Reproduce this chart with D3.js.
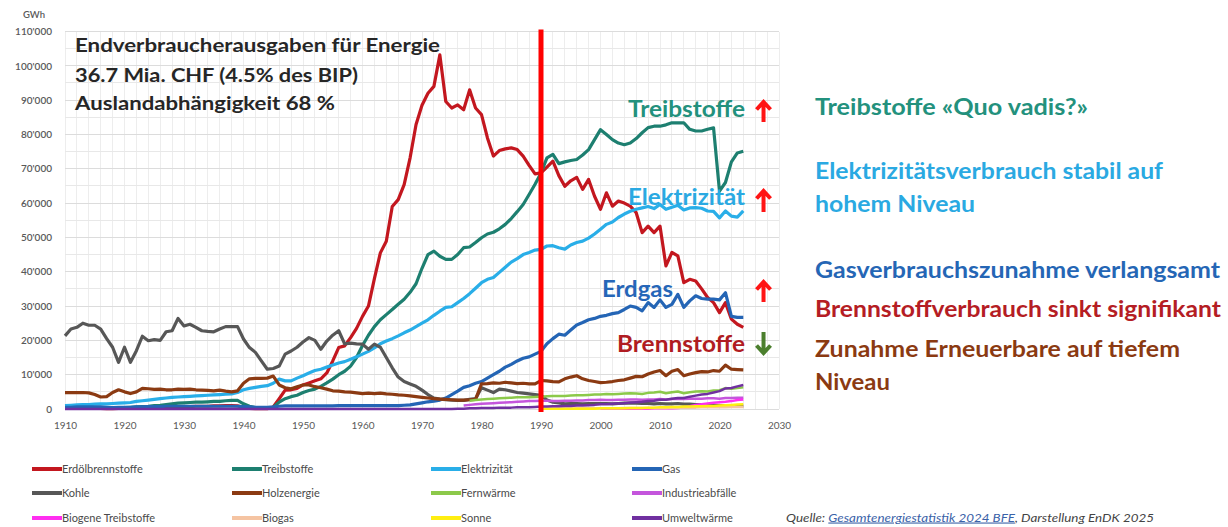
<!DOCTYPE html>
<html>
<head>
<meta charset="utf-8">
<script src="https://cdn.jsdelivr.net/npm/d3@7"></script>
<style>
  html, body { margin: 0; padding: 0; background: #fff; }
  svg { display: block; font-family: Lato, "Open Sans", sans-serif; }
</style>
</head>
<body>
<script>
// Endenergieverbrauch Schweiz nach Energieträgern, in 1000 GWh
var erdoel = [
  0.2,0.2,0.2,0.2,0.2,0.2,0.2,0.1,0.1,0.2,
  0.3,0.3,0.3,0.4,0.4,0.4,0.5,0.5,0.6,0.6,
  0.7,0.7,0.8,0.8,0.8,0.9,0.9,1.0,1.0,0.9,
  0.5,0.2,0.1,0.1,0.1,0.6,3.0,5.5,5.6,6.0,
  7.0,7.6,8.2,8.8,10.5,14.0,17.9,18.4,20.8,23.5,
  27.0,30.0,38.0,45.5,48.9,59.0,61.0,65.4,73.2,82.9,
  88.5,92.0,94.0,103.2,89.6,87.7,88.6,87.2,93.0,87.7,
  85.8,79.0,73.7,75.3,75.8,76.1,75.6,73.7,71.0,68.5,
  68.8,70.5,72.2,68.0,64.9,66.5,67.5,64.0,66.9,62.0,
  58.2,63.0,59.1,60.6,60.0,59.1,57.2,51.4,53.3,51.4,
  53.3,41.7,45.6,44.6,36.8,37.8,37.3,35.0,32.5,31.0,
  28.1,31.0,26.2,24.7,23.8
];
var treibstoffe = [
  0.2,0.2,0.3,0.3,0.3,0.3,0.3,0.2,0.2,0.3,
  0.4,0.5,0.6,0.7,0.8,1.0,1.1,1.3,1.5,1.7,
  1.8,1.9,2.0,2.0,2.1,2.2,2.2,2.4,2.5,2.5,
  1.5,0.8,0.4,0.3,0.3,0.5,2.0,3.0,3.6,4.0,
  4.8,5.4,5.8,6.6,7.6,8.7,10.0,11.0,12.5,15.0,
  18.5,21.5,24.0,26.0,27.5,29.0,30.5,32.0,34.0,36.5,
  41.0,45.0,46.0,44.5,43.6,43.6,45.0,47.0,47.2,48.5,
  49.9,51.0,51.5,52.5,53.8,55.5,57.5,59.6,62.5,65.5,
  68.8,73.2,74.2,71.5,72.0,72.4,72.7,74.0,75.6,78.5,
  81.4,80.0,78.5,77.5,77.0,77.5,78.8,80.5,82.0,82.4,
  82.4,82.8,83.4,83.4,83.4,81.5,81.0,81.0,81.5,81.9,
  63.5,66.0,72.0,74.6,75.1
];
var elektrizitaet = [
  1.0,1.1,1.2,1.3,1.3,1.4,1.5,1.5,1.6,1.7,
  1.8,1.9,2.2,2.4,2.6,2.8,3.0,3.2,3.4,3.5,
  3.6,3.7,3.8,3.9,4.0,4.1,4.2,4.3,4.4,4.8,
  5.6,6.0,6.3,6.6,6.8,7.5,8.7,8.2,8.2,9.0,
  9.7,10.5,11.2,11.6,12.2,12.8,13.4,13.8,14.5,15.2,
  16.0,16.8,17.8,19.0,19.8,20.5,21.3,22.2,23.0,24.0,
  25.0,26.0,27.3,28.5,29.6,29.8,31.0,32.2,33.6,35.2,
  36.8,37.8,38.3,39.8,41.3,42.8,43.8,45.0,45.6,46.3,
  46.5,47.5,47.6,47.0,46.6,47.8,48.5,48.9,49.8,51.0,
  52.4,53.8,54.5,55.8,56.8,57.6,58.2,58.6,59.0,58.4,
  59.6,58.2,58.8,59.4,58.0,58.6,58.7,58.5,57.7,57.6,
  55.7,57.7,56.2,55.9,57.7
];
var gas = [
  0.5,0.5,0.6,0.6,0.6,0.6,0.6,0.5,0.4,0.5,
  0.5,0.5,0.6,0.6,0.7,0.7,0.7,0.8,0.8,0.8,
  0.8,0.8,0.8,0.8,0.8,0.8,0.8,0.8,0.8,0.8,
  0.7,0.6,0.5,0.5,0.5,0.6,0.8,0.9,0.9,0.9,
  0.9,0.9,0.9,0.9,0.9,0.9,1.0,1.0,1.0,1.0,
  1.0,1.0,1.0,1.0,1.0,1.0,1.0,1.1,1.2,1.5,
  1.8,2.1,2.3,2.6,3.2,4.2,5.2,6.3,6.8,7.5,
  8.0,9.0,10.0,11.0,12.2,13.0,14.0,14.8,15.2,16.0,
  16.8,19.0,20.5,21.8,21.5,23.0,24.5,25.2,26.0,26.4,
  27.0,27.3,27.8,28.1,29.0,30.0,29.6,28.6,31.0,29.6,
  31.8,29.6,30.5,33.4,29.6,31.5,33.0,32.2,32.0,32.0,
  31.8,33.9,27.0,26.7,26.7
];
var kohle = [
  21.3,23.3,23.8,25.0,24.4,24.4,23.3,20.5,18.0,13.6,
  18.0,13.6,17.0,21.2,19.9,20.2,20.0,22.5,22.8,26.4,
  24.2,24.7,23.8,22.8,22.6,22.5,23.3,24.0,24.0,24.0,
  20.4,17.9,16.5,14.0,11.6,11.8,12.5,16.0,16.9,18.0,
  19.5,20.8,20.0,17.4,19.8,21.5,22.8,19.0,19.2,19.0,
  18.9,17.4,18.9,18.0,15.0,12.0,9.3,8.0,7.3,6.6,
  5.5,4.2,3.2,2.9,2.7,2.6,2.5,2.5,2.8,3.0,
  6.2,5.5,4.8,5.8,5.6,5.2,4.8,4.6,4.4,4.2,
  4.0,2.6,2.0,1.8,1.5,1.6,1.6,1.5,1.6,1.6,
  1.6,1.6,1.5,1.6,1.7,1.7,1.7,1.6,1.6,1.5,
  1.6,1.5,1.5,1.6,1.4,1.4,1.3,1.3,1.2,1.1,
  1.0,1.0,0.9,0.9,0.8
];
var holz = [
  4.8,4.8,4.8,4.8,4.7,4.2,3.5,3.6,4.8,5.6,
  5.0,4.5,5.0,6.0,5.9,5.7,5.8,5.6,5.6,5.8,
  5.7,5.8,5.6,5.5,5.4,5.3,5.5,5.2,5.0,5.3,
  7.5,8.8,8.9,8.9,9.0,9.6,7.0,6.2,5.9,6.5,
  7.0,7.0,6.5,6.2,5.8,5.3,5.2,5.0,4.9,4.7,
  4.5,4.6,4.5,4.6,4.4,4.3,4.1,4.0,3.8,3.6,
  3.4,3.2,3.0,2.9,2.8,2.7,2.6,2.6,2.7,2.8,
  7.3,7.4,7.6,7.5,7.8,7.6,7.4,7.5,7.3,7.3,
  8.3,8.2,8.0,7.9,8.8,9.3,9.7,8.8,8.3,8.0,
  7.7,7.8,8.0,8.3,8.5,9.0,9.5,9.4,10.2,10.8,
  11.2,9.7,11.0,11.5,9.7,10.2,10.6,10.9,10.8,11.2,
  11.0,12.8,11.6,11.5,11.4
];
// ab 1978
var fernwaerme = [
  2.4,2.6,
  2.8,2.9,3.0,3.1,3.2,3.3,3.4,3.4,3.4,3.5,
  3.6,3.7,3.8,3.8,3.8,3.9,4.0,4.0,4.1,4.2,
  4.2,4.4,4.3,4.4,4.5,4.6,4.5,4.4,4.7,4.8,
  5.0,4.6,4.9,5.1,4.6,4.9,5.1,5.2,5.1,5.4,
  5.5,6.1,5.9,6.1,6.3
];
// ab 1977
var industrie = [
  1.0,1.2,1.4,
  1.5,1.6,1.7,1.8,1.9,2.0,2.1,2.2,2.3,2.3,
  2.4,2.4,2.3,2.3,2.4,2.4,2.5,2.5,2.6,2.6,
  2.7,2.6,2.6,2.7,2.7,2.8,2.8,2.7,2.8,2.8,
  2.9,2.8,2.9,2.9,2.9,3.0,3.0,3.0,3.1,3.1,
  3.0,3.2,3.2,3.3,3.3
];
// ab 2000
var biogeneTreib = [
  0.1,0.1,0.1,0.1,0.1,0.1,0.1,0.1,0.1,0.2,
  0.2,0.2,0.2,0.3,0.4,0.8,1.2,1.4,1.6,1.8,
  2.0,2.1,2.3,2.6,2.8
];
// ab 1990
var biogas = [
  0.1,0.1,0.1,0.1,0.1,0.1,0.2,0.2,0.2,0.2,
  0.2,0.2,0.2,0.2,0.3,0.3,0.3,0.3,0.3,0.3,
  0.3,0.3,0.4,0.4,0.4,0.4,0.4,0.5,0.5,0.5,
  0.5,0.5,0.6,0.6,0.6
];
// ab 1990
var sonne = [
  0.1,0.1,0.1,0.1,0.1,0.1,0.1,0.1,0.1,0.1,
  0.2,0.2,0.2,0.2,0.2,0.3,0.3,0.3,0.4,0.4,
  0.5,0.5,0.6,0.6,0.7,0.7,0.8,0.8,0.9,0.9,
  1.0,1.1,1.2,1.3,1.4
];
var umwelt = [
  0,0,0,0,0,0,0,0,0,0,
  0,0,0,0,0,0,0,0,0,0,
  0,0,0,0,0,0,0,0,0,0,
  0,0,0,0,0,0,0,0,0,0,
  0,0,0,0,0,0,0,0,0,0,
  0,0,0,0,0,0,0,0,0,0,
  0,0,0,0,0,0,0.1,0.1,0.2,0.2,
  0.3,0.3,0.3,0.4,0.4,0.4,0.5,0.5,0.5,0.6,
  0.7,0.7,0.8,0.8,0.9,0.9,1.0,1.0,1.1,1.2,
  1.4,1.4,1.5,1.6,1.7,1.9,2.0,2.1,2.3,2.4,
  2.7,2.7,3.0,3.2,3.2,3.6,3.9,4.2,4.4,4.8,
  5.2,6.0,6.1,6.6,7.0
];

var xTicks = d3.range(1910, 2031, 10);
var yTicks = d3.range(0, 111, 10);

var series = [
  {name: "Erdölbrennstoffe",    color: "#c3171f", start: 1910, values: erdoel,        w: 3.2},
  {name: "Treibstoffe",         color: "#1d7f70", start: 1910, values: treibstoffe,   w: 3.2},
  {name: "Elektrizität",        color: "#29aee8", start: 1910, values: elektrizitaet, w: 3.2},
  {name: "Gas",                 color: "#2465b5", start: 1910, values: gas,           w: 3.2},
  {name: "Kohle",               color: "#575757", start: 1910, values: kohle,         w: 3.2},
  {name: "Holzenergie",         color: "#8b3a12", start: 1910, values: holz,          w: 3.2},
  {name: "Fernwärme",           color: "#8cc94a", start: 1978, values: fernwaerme,    w: 2.5},
  {name: "Industrieabfälle",    color: "#c455dc", start: 1977, values: industrie,     w: 2.5},
  {name: "Biogene Treibstoffe", color: "#ff2ef0", start: 2000, values: biogeneTreib,  w: 2.5},
  {name: "Biogas",              color: "#f5c4a2", start: 1990, values: biogas,        w: 2.5},
  {name: "Sonne",               color: "#ffee11", start: 1990, values: sonne,         w: 2.5},
  {name: "Umweltwärme",         color: "#7030a0", start: 1910, values: umwelt,        w: 2.5}
];

var width = 1228, height = 527;
var svg = d3.select("body").append("svg")
    .attr("width", width)
    .attr("height", height);

var x = d3.scaleLinear().domain([1910, 2030]).range([65, 779]);
var y = d3.scaleLinear().domain([0, 110]).range([409, 31.5]);

var fmt = d3.formatLocale({decimal: ".", thousands: "'", grouping: [3], currency: ["", ""]}).format(",");

// Gitter
var grid = svg.append("g").attr("shape-rendering", "crispEdges");
grid.selectAll(".vgrid")
    .data(d3.range(1910, 2031, 2))
    .enter().append("line")
    .attr("class", "vgrid")
    .attr("x1", function (d) { return x(d); })
    .attr("x2", function (d) { return x(d); })
    .attr("y1", y(110))
    .attr("y2", y(0))
    .attr("stroke", "#ededed");
grid.selectAll(".hgrid")
    .data(d3.range(0, 111, 5))
    .enter().append("line")
    .attr("class", "hgrid")
    .attr("x1", x(1910))
    .attr("x2", x(2030))
    .attr("y1", function (d) { return y(d); })
    .attr("y2", function (d) { return y(d); })
    .attr("stroke", function (d) { return d % 10 === 0 ? "#dcdcdc" : "#e8e8e8"; });

// Achsen
svg.append("g")
    .attr("transform", "translate(0," + y(0) + ")")
    .call(d3.axisBottom(x).tickValues(xTicks).tickFormat(d3.format("d")).tickSize(0).tickPadding(13))
    .call(function (g) { g.select(".domain").remove(); })
    .selectAll("text")
    .attr("font-family", "Lato, sans-serif")
    .attr("font-size", 10)
    .attr("fill", "#595959");

svg.append("g")
    .attr("transform", "translate(52,0)")
    .call(d3.axisLeft(y).tickValues(yTicks).tickFormat(function (d) { return fmt(d * 1000); }).tickSize(0).tickPadding(0))
    .call(function (g) { g.select(".domain").remove(); })
    .selectAll("text")
    .attr("font-family", "Lato, sans-serif")
    .attr("font-size", 10)
    .attr("font-weight", 600)
    .attr("fill", "#595959");

svg.append("text")
    .attr("x", 45).attr("y", 18)
    .attr("text-anchor", "end")
    .attr("font-size", 9.5)
    .attr("font-weight", 600)
    .attr("fill", "#595959")
    .text("GWh");

// Linien
var line = d3.line()
    .x(function (d) { return x(d.year); })
    .y(function (d) { return y(d.v); });

svg.append("g").selectAll("path")
    .data(series)
    .enter().append("path")
    .attr("d", function (s) {
        return line(s.values.map(function (v, i) { return {year: s.start + i, v: v}; }));
    })
    .attr("fill", "none")
    .attr("stroke", function (s) { return s.color; })
    .attr("stroke-width", function (s) { return s.w; })
    .attr("stroke-linejoin", "round");

// 1990-Marke
svg.append("line")
    .attr("x1", x(1990)).attr("x2", x(1990))
    .attr("y1", y(110) - 2).attr("y2", y(0) + 3)
    .attr("stroke", "#ff0000")
    .attr("stroke-width", 5);

function label(txt, px, py, size, color, len) {
    return svg.append("text")
        .attr("x", px).attr("y", py)
        .attr("font-size", size)
        .attr("font-weight", 700)
        .attr("fill", color)
        .attr("textLength", len)
        .attr("lengthAdjust", "spacingAndGlyphs")
        .text(txt);
}

// Titelblock
label("Endverbraucherausgaben für Energie", 75, 52, 19.5, "#262626", 365);
label("36.7 Mia. CHF (4.5% des BIP)", 75, 81.5, 19.5, "#262626", 283);
label("Auslandabhängigkeit 68 %", 75, 110, 19.5, "#262626", 260);

// Beschriftungen im Diagramm
label("Treibstoffe", 628, 116.5, 23, "#23917d", 117);
label("Elektrizität", 628, 205, 23, "#2aa9e2", 117);
label("Erdgas", 602, 296.5, 23, "#2566b8", 71);
label("Brennstoffe", 617, 351.5, 23, "#b01c22", 128);

// Pfeile
var ax = x(2027.4);
function arrow(top, bottom, up, color) {
    var tip = up ? top : bottom, dir = up ? 1 : -1;
    svg.append("path")
        .attr("d", "M" + ax + "," + bottom + "L" + ax + "," + top +
                   "M" + (ax - 7) + "," + (tip + dir * 7.5) + "L" + ax + "," + tip + "L" + (ax + 7) + "," + (tip + dir * 7.5))
        .attr("fill", "none")
        .attr("stroke", color)
        .attr("stroke-width", 4)
        .attr("stroke-linecap", "butt")
        .attr("stroke-linejoin", "miter");
}
arrow(102, 122, true, "#ff1414");
arrow(191, 212, true, "#ff1414");
arrow(282, 302, true, "#ff1414");
arrow(332, 353, false, "#4b7f2d");

// Kommentare rechts
label("Treibstoffe «Quo vadis?»", 815, 115, 22, "#23917d", 273);
label("Elektrizitätsverbrauch stabil auf", 815, 179, 22, "#2aa9e2", 348);
label("hohem Niveau", 815, 211.5, 22, "#2aa9e2", 160);
label("Gasverbrauchszunahme verlangsamt", 815, 278, 22, "#2566b5", 405);
label("Brennstoffverbrauch sinkt signifikant", 815, 317, 22, "#b51d24", 406);
label("Zunahme Erneuerbare auf tiefem", 815, 357, 22, "#8b3a12", 365);
label("Niveau", 815, 390, 22, "#8b3a12", 75);

// Legende
var colX = [32, 232, 431, 632], rowY = [469, 493, 518];
var leg = svg.append("g").selectAll("g")
    .data(series)
    .enter().append("g")
    .attr("transform", function (d, i) {
        return "translate(" + colX[i % 4] + "," + rowY[Math.floor(i / 4)] + ")";
    });
leg.append("line")
    .attr("x1", 0).attr("x2", 30)
    .attr("stroke", function (d) { return d.color; })
    .attr("stroke-width", 4);
leg.append("text")
    .attr("x", 30)
    .attr("dy", "0.35em")
    .attr("font-size", 11)
    .attr("fill", "#4a4a4a")
    .text(function (d) { return d.name; });

// Quelle
var src = svg.append("text")
    .attr("x", 786).attr("y", 521.5)
    .attr("font-size", 11)
    .attr("font-style", "italic")
    .attr("fill", "#444")
    .attr("textLength", 368)
    .attr("lengthAdjust", "spacingAndGlyphs");
src.append("tspan").text("Quelle: ");
src.append("tspan").attr("fill", "#3a62a8").attr("text-decoration", "underline").text("Gesamtenergiestatistik 2024 BFE");
src.append("tspan").text(", Darstellung EnDK 2025");
</script>
</body>
</html>
